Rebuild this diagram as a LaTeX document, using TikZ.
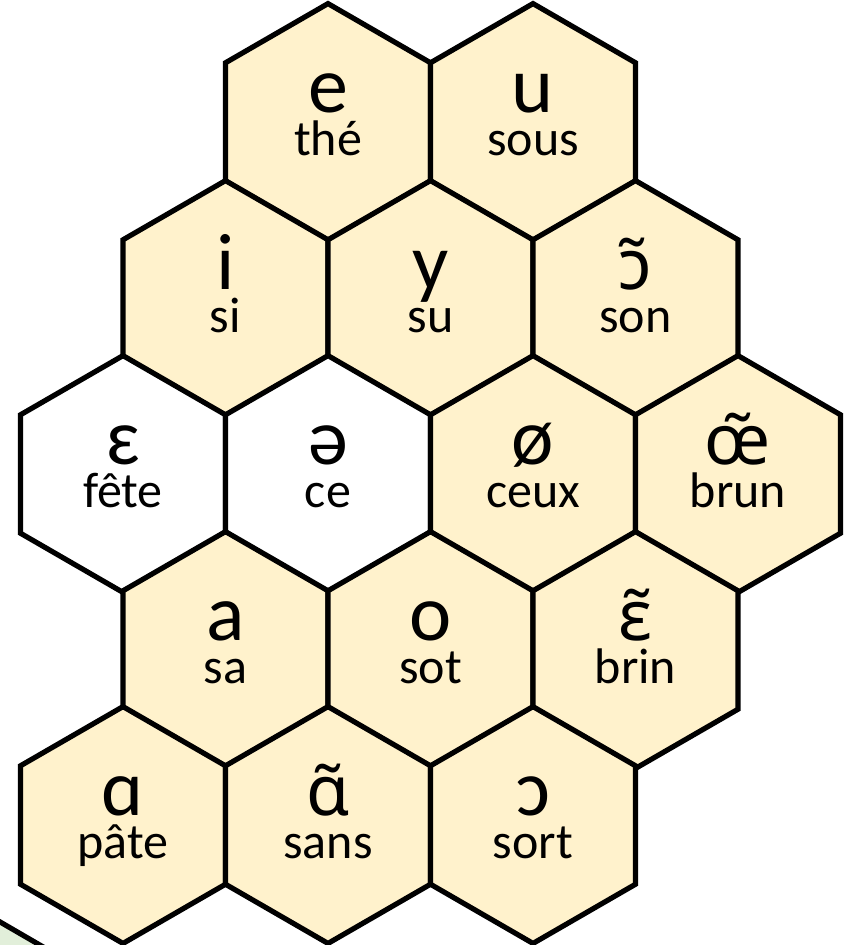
\documentclass[tikz,border=0pt]{standalone}
\usepackage{fontspec}
\setmainfont{Carlito}
\newfontfamily\tildefont{Noto Sans}
\definecolor{hexgold}{HTML}{FFF2CC}
\definecolor{hexgreen}{HTML}{E2EFDA}
\tikzset{
  hexline/.style={draw=black, line width=5.2pt, line join=miter},
  symtext/.style={anchor=base, inner sep=0pt, text depth=0pt, font=\fontsize{80}{80}\selectfont},
  wordtext/.style={anchor=base, inner sep=0pt, text height=36pt, font=\fontsize{50}{50}\selectfont},
}
\newcommand\tsym[1]{{\tildefont\fontsize{70}{70}\selectfont #1}}
\newcommand\hexcell[6]{%
  \draw[hexline, fill=#4, shift={(#2,-#3)}] (90:118.4) -- (30:118.4) -- (-30:118.4) -- (-90:118.4) -- (-150:118.4) -- (150:118.4) -- cycle;
  \coordinate (#1) at (#2,-#3);
  \node[symtext] (#1-sym) at (#2,-#3+10) {#5};
  \node[wordtext] (#1-word) at (#2,-#3-33) {#6};
}
\begin{document}
\begin{tikzpicture}[x=1pt,y=1pt]
\useasboundingbox (0,0) rectangle (844,-945);
% partial green cell at bottom-left corner
\begin{scope}
\clip (0,0) rectangle (844,-945);
\fill[hexgreen] (0,-922) -- (40,-945) -- (0,-945) -- cycle;
\draw[hexline] (-5,-919) -- (45,-948);
\end{scope}
\hexcell{e}{328}{122}{hexgold}{e}{thé}
\hexcell{u}{533}{122}{hexgold}{u}{sous}
\hexcell{i}{225.5}{299}{hexgold}{i}{si}
\hexcell{y}{430.5}{299}{hexgold}{y}{su}
\hexcell{on}{635.5}{299}{hexgold}{\tsym{ɔ̃}}{son}
\hexcell{eps}{123}{474}{white}{ɛ}{fête}
\hexcell{schwa}{328}{474}{white}{ə}{ce}
\hexcell{oe}{533}{474}{hexgold}{ø}{ceux}
\hexcell{un}{738}{474}{hexgold}{\tsym{œ̃}}{brun}
\hexcell{a}{225.5}{650}{hexgold}{a}{sa}
\hexcell{o}{430.5}{650}{hexgold}{o}{sot}
\hexcell{in}{635.5}{650}{hexgold}{\tsym{ɛ̃}}{brin}
\hexcell{aa}{123}{825}{hexgold}{ɑ}{pâte}
\hexcell{an}{328}{825}{hexgold}{\tsym{ɑ̃}}{sans}
\hexcell{oo}{533}{825}{hexgold}{ɔ}{sort}
\end{tikzpicture}
\end{document}
